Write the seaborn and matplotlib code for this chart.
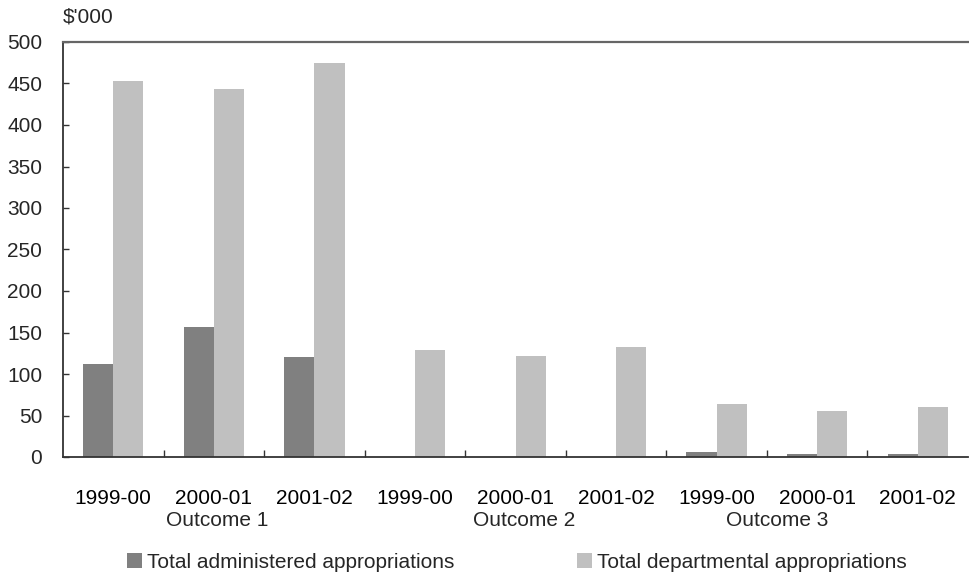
import pandas as pd
import matplotlib.pyplot as plt
import matplotlib.transforms as mtransforms
import seaborn as sns

# values ($'000)
years = ['1999-00', '2000-01', '2001-02']
outcomes = ['Outcome 1', 'Outcome 2', 'Outcome 3']
administered = [112, 157, 120, 0, 0, 0, 6, 4, 4]
departmental = [453, 443, 475, 129, 122, 132, 64, 55, 60]
series_names = ['Total administered appropriations', 'Total departmental appropriations']
y_ticks = [0, 50, 100, 150, 200, 250, 300, 350, 400, 450, 500]

slots = [o + ' ' + y for o in outcomes for y in years]
df = pd.DataFrame({
    'slot': slots * 2,
    'value': administered + departmental,
    'series': [series_names[0]] * len(slots) + [series_names[1]] * len(slots),
})

sns.set_theme(style='white')
plt.rcParams['font.family'] = ['Liberation Sans', 'DejaVu Sans']
fs = 15

W, H = 969, 577
fig = plt.figure(figsize=(W / 100, H / 100), dpi=100)
ax = fig.add_axes([63 / W, 1 - 457 / H, (968 - 63) / W, (457 - 42) / H])

sns.barplot(data=df, x='slot', y='value', hue='series', order=slots,
            palette=['#808080', '#c0c0c0'], width=0.6, linewidth=0,
            saturation=1, ax=ax)
handles, labels = ax.get_legend_handles_labels()
ax.get_legend().remove()

ax.set_xlim(-0.5, len(slots) - 0.5)
ax.set_ylim(0, 500)
ax.set_yticks(y_ticks)
ax.set_yticklabels([str(t) for t in y_ticks], fontsize=fs)
ax.set_xticks(range(len(slots)))
ax.set_xticklabels(years * len(outcomes), fontsize=fs)
ax.set_xticks([i + 0.5 for i in range(len(slots) - 1)], minor=True)
ax.set_xlabel('')
ax.set_ylabel('')

ax.tick_params(axis='x', which='major', length=0, pad=23, colors='black')
ax.tick_params(axis='x', which='minor', direction='in', length=5, width=1, color='#333333', bottom=True)
ax.tick_params(axis='y', direction='in', length=4, width=1, color='#333333', pad=15, left=True)

for side in ['left', 'bottom']:
    ax.spines[side].set_color('#333333')
    ax.spines[side].set_linewidth(1.3)
ax.spines['top'].set_color('#666666')
ax.spines['top'].set_linewidth(1.6)
ax.spines['right'].set_visible(False)

# outcome group labels
outcome_x = [1.03, 4.09, 6.6]
trans = mtransforms.blended_transform_factory(ax.transData, fig.transFigure)
for x, name in zip(outcome_x, outcomes):
    ax.text(x, 1 - 521 / H, name, transform=trans, ha='center', va='center', fontsize=fs)

fig.text(63 / W, 1 - 17 / H, "$'000", ha='left', va='center', fontsize=fs)

# legend: one entry per box, placed like the reference
for h, lab, px in zip(handles, labels, [127, 577]):
    fig.legend([h], [lab], loc='center left', bbox_to_anchor=(px / W, 1 - 562 / H),
               frameon=False, fontsize=fs, borderpad=0, borderaxespad=0,
               handlelength=0.7, handleheight=0.7, handletextpad=0.25)

fig.savefig('out.png', dpi=100)
